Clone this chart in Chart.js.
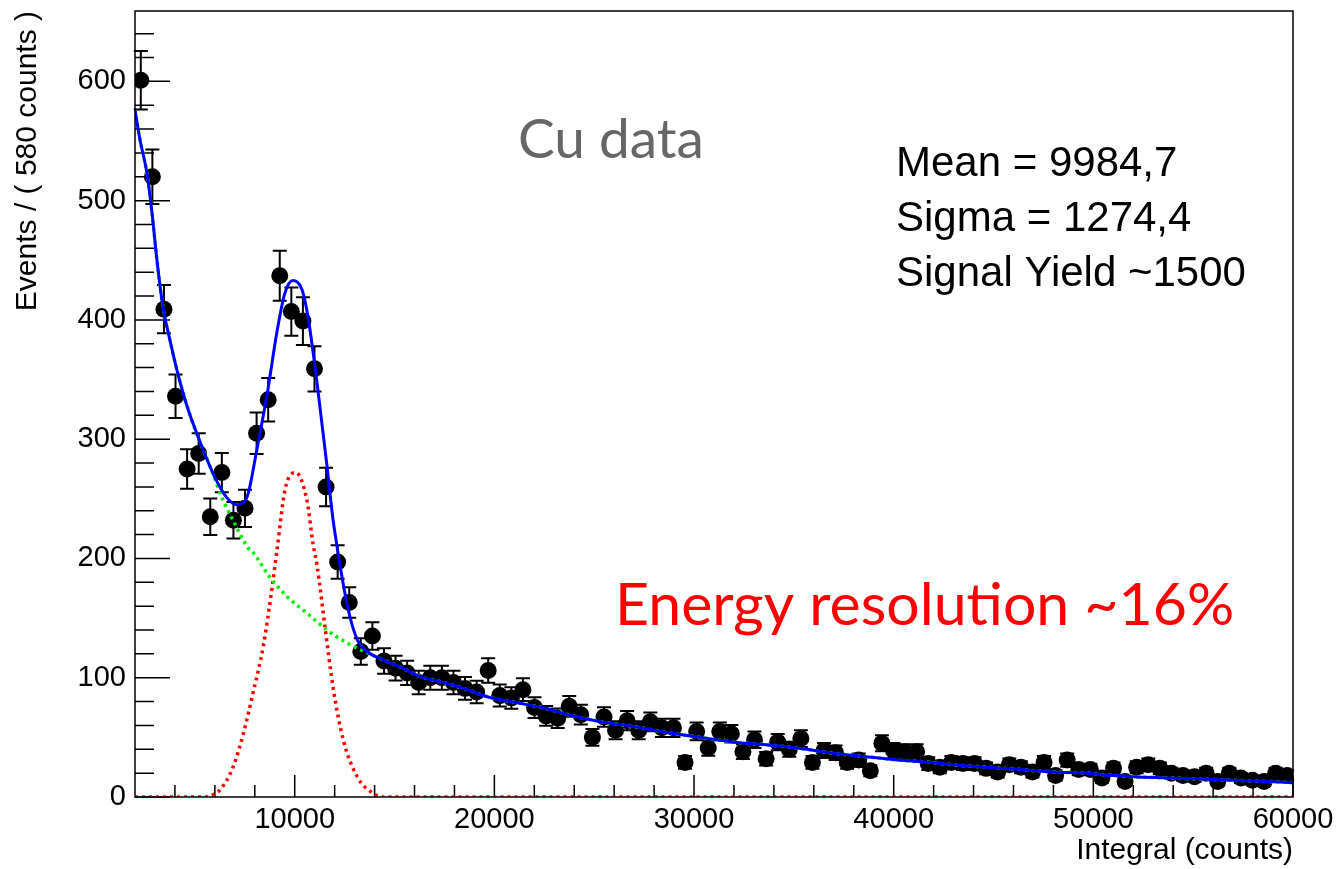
<!DOCTYPE html>
<html>

<head>
  <meta charset="UTF-8">
  <script src="https://cdn.jsdelivr.net/npm/chart.js"></script>
  <style>
    html, body { margin: 0; padding: 0; background: #fff; }
    .chartBox { width: 1338px; height: 869px; }
  </style>
</head>

<body>
  <div class="chartBox">
    <canvas id="myChart"></canvas>
  </div>

  <script>
    // binning: 100 bins of 580 counts from 2000 to 60000
    const binStart = 2000;
    const binWidth = 580;

    // events per bin
    const counts = [
      601, 520, 409, 336, 275, 288, 235, 272, 232, 242,
      305, 333, 437, 407, 399, 359, 260, 197, 163, 122,
      135, 114, 108, 104, 96, 100, 100, 96, 91, 88,
      106, 85, 83, 90, 75, 68, 66, 76, 69, 50,
      67, 56, 64, 56, 63, 58, 58, 29, 55, 41,
      55, 53, 38, 48, 32, 46, 40, 49, 29, 39,
      37, 29, 31, 22, 45, 39, 38, 38, 28, 25,
      29, 28, 28, 24, 21, 27, 25, 21, 29, 18,
      31, 23, 23, 16, 24, 13, 25, 27, 24, 20,
      18, 17, 20, 13, 20, 16, 14, 13, 20, 18
    ];

    // total fit (blue)
    const fitX = [2000, 2250, 2600, 2850, 3100, 3400, 3750, 4100, 4600, 5250, 6000, 6600, 7100, 7600, 8100, 8650,
      9100, 9500, 9900, 10370, 10670, 11120, 11620, 11900, 12120, 12280, 12680, 13130, 13630, 14430, 15280,
      16290, 17440, 18640, 19640, 21150, 22650, 23700, 25360, 27010, 28650, 30340, 31990, 33480, 35180, 36840,
      38500, 40200, 41850, 43000, 44700, 46360, 48000, 49700, 51000, 52020, 53730, 55380, 57040, 58740, 60000];
    const fitY = [576, 551, 523, 490, 450, 411, 383, 358, 328, 298, 268, 251, 245, 251, 291, 341,
      389, 422, 433, 425, 402, 347, 277, 235, 210, 193, 157, 132, 122, 115, 109,
      101, 96, 90, 84, 79, 74, 69, 63, 59, 54, 50, 46, 44, 41, 37,
      34, 31, 29, 27, 25, 23, 21, 20, 18, 17, 16, 15, 14, 13, 12];

    // background component (green)
    const bkgX = [2000, 2250, 2600, 2850, 3100, 3400, 3750, 4100, 4760, 5760, 6410, 6910, 7660, 7910, 8770,
      9620, 10620, 11620, 12630, 13630, 14430, 15280, 16290, 17440, 18640, 19640, 21150, 22650, 23700, 25360,
      27010, 28650, 30340, 31990, 33480, 35180, 36840, 38500, 40200, 41850, 43000, 44700, 46360, 48000, 49700,
      51000, 52020, 53730, 55380, 57040, 58740, 60000];
    const bkgY = [576, 551, 523, 490, 450, 411, 383, 358, 320, 277, 249, 232, 209, 205, 184,
      168, 154, 140, 129, 121, 115, 109, 101, 96, 90, 84, 79, 74, 69, 63,
      59, 54, 50, 46, 44, 41, 37, 34, 31, 29, 27, 25, 23, 21, 20,
      18, 17, 16, 15, 14, 13, 12];

    // signal component (red)
    const sigX = [2000, 5500, 5760, 6260, 6910, 7410, 7910, 8420, 8870, 9120, 9520, 10050, 10620, 10920, 11120,
      11520, 11920, 12430, 13130, 13930, 14430, 60000];
    const sigY = [0, 0, 1, 6, 25, 52, 87, 126, 176, 208, 258, 272, 248, 212, 194,
      142, 92, 48, 17, 3, 0, 0];

    const xTicks = [10000, 20000, 30000, 40000, 50000, 60000];
    const yTicks = [0, 100, 200, 300, 400, 500, 600];

    const statLines = ['Mean = 9984,7', 'Sigma = 1274,4', 'Signal Yield ~1500'];

    const points = counts.map((c, i) => ({ x: binStart + binWidth * (i + 0.5), y: c }));
    const toXY = (xs, ys) => xs.map((x, i) => ({ x: x, y: ys[i] }));

    // ROOT style inner ticks, frame and error bars
    const rootFrame = {
      id: 'rootFrame',
      beforeDatasetsDraw(chart) {
        const ctx = chart.ctx;
        const xs = chart.scales.x, ys = chart.scales.y;
        const a = chart.chartArea;
        ctx.save();
        ctx.strokeStyle = '#000';
        ctx.lineWidth = 1.5;
        ctx.beginPath();
        for (let v = 0; v <= 660; v += 20) {
          const py = ys.getPixelForValue(v);
          if (py < a.top) continue;
          const len = v % 100 === 0 ? 35 : 19;
          ctx.moveTo(a.left, py);
          ctx.lineTo(a.left + len, py);
        }
        for (let v = 4000; v <= 60000; v += 2000) {
          const px = xs.getPixelForValue(v);
          const len = v % 10000 === 0 ? 22 : 12;
          ctx.moveTo(px, a.bottom);
          ctx.lineTo(px, a.bottom - len);
        }
        ctx.stroke();

        // error bars (poisson)
        ctx.lineWidth = 2;
        ctx.beginPath();
        points.forEach(p => {
          const e = Math.sqrt(p.y);
          const px = xs.getPixelForValue(p.x);
          const top = ys.getPixelForValue(p.y + e);
          const bot = ys.getPixelForValue(p.y - e);
          ctx.moveTo(px, top);
          ctx.lineTo(px, bot);
          ctx.moveTo(px - 7, top);
          ctx.lineTo(px + 7, top);
          ctx.moveTo(px - 7, bot);
          ctx.lineTo(px + 7, bot);
        });
        ctx.stroke();
        ctx.restore();
      },
      afterDraw(chart) {
        const ctx = chart.ctx;
        const a = chart.chartArea;
        ctx.save();
        ctx.strokeStyle = '#000';
        ctx.lineWidth = 1.5;
        ctx.strokeRect(a.left, a.top, a.right - a.left, a.bottom - a.top);

        ctx.textBaseline = 'alphabetic';
        ctx.textAlign = 'left';
        ctx.fillStyle = '#666';
        ctx.font = '55px Lato';
        ctx.fillText('Cu data', a.left + 383, a.top + 147);

        ctx.fillStyle = '#000';
        ctx.font = '42px "Liberation Sans"';
        statLines.forEach((t, i) => ctx.fillText(t, a.left + 761, a.top + 165 + i * 55));

        ctx.fillStyle = '#ff0000';
        ctx.font = '59px Lato';
        ctx.fillText('Energy resolution ~16%', a.left + 480, a.top + 614);
        ctx.restore();
      }
    };

    new Chart(document.getElementById('myChart'), {
      type: 'scatter',
      data: {
        datasets: [
          {
            label: 'fit',
            data: toXY(fitX, fitY),
            showLine: true,
            borderColor: '#0000ff',
            borderWidth: 3,
            pointRadius: 0,
            cubicInterpolationMode: 'monotone',
            order: 0
          },
          {
            label: 'background',
            data: toXY(bkgX, bkgY),
            showLine: true,
            borderColor: '#00f000',
            borderWidth: 3.5,
            borderDash: [3, 4],
            pointRadius: 0,
            cubicInterpolationMode: 'monotone',
            order: 1
          },
          {
            label: 'signal',
            data: toXY(sigX, sigY),
            showLine: true,
            borderColor: '#ff0000',
            borderWidth: 3.5,
            borderDash: [3, 4],
            pointRadius: 0,
            cubicInterpolationMode: 'monotone',
            order: 2
          },
          {
            label: 'data',
            data: points,
            pointRadius: 8.5,
            pointBackgroundColor: '#000',
            pointBorderWidth: 0,
            order: 3
          }
        ]
      },
      options: {
        responsive: true,
        maintainAspectRatio: false,
        animation: false,
        layout: { padding: { top: 11, right: 45, left: 0, bottom: 0 } },
        plugins: {
          legend: { display: false },
          tooltip: { enabled: false }
        },
        scales: {
          x: {
            type: 'linear',
            min: 2000,
            max: 60000,
            afterBuildTicks: s => { s.ticks = xTicks.map(v => ({ value: v })); },
            afterFit: s => { s.height = 72; s.paddingLeft = 0; s.paddingRight = 0; },
            grid: { display: false, drawTicks: false },
            border: { display: false },
            ticks: {
              color: '#000',
              font: { family: 'Liberation Sans', size: 29 },
              padding: 6,
              maxRotation: 0,
              callback: v => String(v)
            },
            title: {
              display: true,
              text: 'Integral (counts)',
              align: 'end',
              color: '#000',
              font: { family: 'Liberation Sans', size: 30 },
              padding: { top: 0, bottom: 0 }
            }
          },
          y: {
            type: 'linear',
            min: 0,
            max: 659,
            afterBuildTicks: s => { s.ticks = yTicks.map(v => ({ value: v })); },
            afterFit: s => { s.width = 135; s.paddingTop = 0; s.paddingBottom = 0; },
            grid: { display: false, drawTicks: false },
            border: { display: false },
            ticks: {
              color: '#000',
              font: { family: 'Liberation Sans', size: 29 },
              padding: 9,
              callback: v => String(v)
            },
            title: {
              display: true,
              text: 'Events / ( 580 counts )',
              align: 'end',
              color: '#000',
              font: { family: 'Liberation Sans', size: 30 },
              padding: { top: 10, bottom: 0 }
            }
          }
        }
      },
      plugins: [rootFrame]
    });
  </script>
</body>

</html>
